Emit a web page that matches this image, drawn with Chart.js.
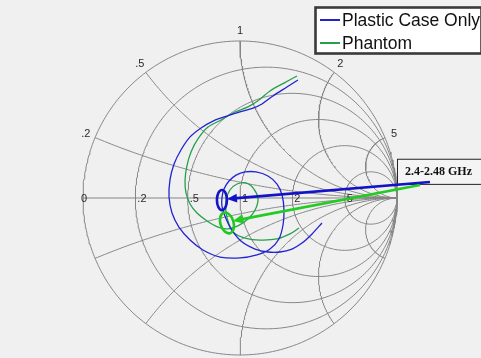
<!DOCTYPE html>
<html>
<head>
<meta charset="utf-8">
<script src="https://cdn.jsdelivr.net/npm/chart.js@4.4.0/dist/chart.umd.min.js"></script>
<style>
  body { margin: 0; background: #f0f0f0; }
  #smith { display: block; }
</style>
</head>
<body>
<canvas id="smith" width="481" height="358"></canvas>
<script>
// smith chart grid values
const resistanceValues = [0.2, 0.5, 1, 2, 5];
const reactanceValues = [0.2, 0.5, 1, 2, 5];
const realAxisLabels = ['0', '.2', '.5', '1', '2', '5'];
const rimLabels = ['.2', '.5', '1', '2', '5'];

// measured S11, reflection coefficient (real / imag)
const caseRe = [0.369, 0.299, 0.210, 0.140, 0.083, 0.000, -0.083, -0.172, -0.248, -0.318,
  -0.376, -0.420, -0.446, -0.452, -0.433, -0.389, -0.318, -0.236, -0.127, 0.000,
  0.108, 0.191, 0.248, 0.274, 0.280, 0.268, 0.236, 0.178, 0.102, 0.032,
  -0.025, -0.070, -0.102, -0.115, -0.115, -0.096, -0.057, 0.006, 0.096, 0.178,
  0.255, 0.331, 0.395, 0.459, 0.522];
const caseIm = [0.752, 0.707, 0.650, 0.599, 0.573, 0.548, 0.522, 0.490, 0.446, 0.389,
  0.306, 0.217, 0.115, 0.006, -0.096, -0.185, -0.268, -0.331, -0.376, -0.382,
  -0.363, -0.325, -0.261, -0.172, -0.076, 0.019, 0.089, 0.140, 0.166, 0.166,
  0.146, 0.108, 0.057, 0.000, -0.051, -0.115, -0.197, -0.274, -0.325, -0.344,
  -0.344, -0.325, -0.287, -0.229, -0.159];

const phantomRe = [0.363, 0.280, 0.191, 0.121, 0.051, -0.032, -0.121, -0.204, -0.268, -0.312,
  -0.338, -0.350, -0.344, -0.318, -0.274, -0.210, -0.140, -0.076, -0.013, 0.051,
  0.096, 0.115, 0.089, 0.038, -0.019, -0.064, -0.089, -0.089, -0.070, -0.038,
  0.032, 0.127, 0.236, 0.318, 0.376];
const phantomIm = [0.777, 0.732, 0.682, 0.624, 0.580, 0.548, 0.497, 0.452, 0.376, 0.293,
  0.204, 0.115, 0.032, -0.038, -0.096, -0.146, -0.185, -0.197, -0.178, -0.134,
  -0.076, -0.006, 0.057, 0.096, 0.089, 0.051, -0.013, -0.089, -0.166, -0.223,
  -0.255, -0.268, -0.261, -0.229, -0.191];

// 2.4-2.48 GHz band markers (centre re, centre im, radius re, radius im, tilt)
const caseBand = [-0.115, -0.013, 0.032, 0.064, 0];
const phantomBand = [-0.083, -0.159, 0.042, 0.068, -0.3];
// callout arrows: tail re/im, head re/im
const caseArrow = [1.21, 0.102, -0.083, -0.006];
const phantomArrow = [1.146, 0.083, -0.045, -0.146];

const gridColor = '#858585';

function gamma(r, x) {
  // z = r + jx  ->  (z - 1) / (z + 1)
  const d = (r + 1) * (r + 1) + x * x;
  return { x: (r * r + x * x - 1) / d, y: 2 * x / d };
}

function resistanceCircle(r) {
  const pts = [];
  for (let i = -180; i <= 180; i++) {
    const t = i / 180 * Math.PI / 2 * 0.9999;
    pts.push(gamma(r, Math.tan(t)));
  }
  return pts;
}

function reactanceArc(x) {
  const pts = [];
  for (let i = 0; i <= 180; i++) {
    const t = i / 180 * Math.PI / 2 * 0.9999;
    pts.push(gamma(Math.tan(t), x));
  }
  return pts;
}

function gridSet(points) {
  return {
    data: points, showLine: true, borderColor: gridColor, borderWidth: 1,
    pointRadius: 0, clip: false, tension: 0
  };
}

const toPoints = (re, im) => re.map((v, i) => ({ x: v, y: im[i] }));

const datasets = [
  { label: 'Plastic Case Only', data: toPoints(caseRe, caseIm), showLine: true,
    borderColor: '#2222d2', borderWidth: 1.3, pointRadius: 0, clip: false, tension: 0.3 },
  { label: 'Phantom', data: toPoints(phantomRe, phantomIm), showLine: true,
    borderColor: '#25a04a', borderWidth: 1.3, pointRadius: 0, clip: false, tension: 0.3 }
];
datasets.push(gridSet([{ x: -1, y: 0 }, { x: 1, y: 0 }]));
datasets.push(gridSet(resistanceCircle(0)));
resistanceValues.forEach(r => datasets.push(gridSet(resistanceCircle(r))));
reactanceValues.forEach(x => {
  datasets.push(gridSet(reactanceArc(x)));
  datasets.push(gridSet(reactanceArc(-x)));
});

function drawArrow(ctx, x0, y0, x1, y1, color) {
  const a = Math.atan2(y1 - y0, x1 - x0);
  ctx.strokeStyle = color;
  ctx.fillStyle = color;
  ctx.lineWidth = 2.6;
  ctx.beginPath();
  ctx.moveTo(x0, y0);
  ctx.lineTo(x1 - 7 * Math.cos(a), y1 - 7 * Math.sin(a));
  ctx.stroke();
  ctx.beginPath();
  ctx.moveTo(x1, y1);
  ctx.lineTo(x1 - 10 * Math.cos(a) + 4.5 * Math.sin(a), y1 - 10 * Math.sin(a) - 4.5 * Math.cos(a));
  ctx.lineTo(x1 - 10 * Math.cos(a) - 4.5 * Math.sin(a), y1 - 10 * Math.sin(a) + 4.5 * Math.cos(a));
  ctx.closePath();
  ctx.fill();
}

const smithDecor = {
  id: 'smithDecor',
  afterDatasetsDraw(chart) {
    const { ctx, scales } = chart;
    const px = v => scales.x.getPixelForValue(v);
    const py = v => scales.y.getPixelForValue(v);
    ctx.save();

    // resistance labels along the real axis
    ctx.fillStyle = '#2a2a2a';
    ctx.font = '11px "Liberation Sans", Arial, sans-serif';
    ctx.textBaseline = 'middle';
    [0].concat(resistanceValues).forEach((r, i) => {
      const g = (r - 1) / (r + 1);
      ctx.textAlign = i === 0 ? 'center' : 'left';
      ctx.fillText(realAxisLabels[i], px(g) + (i === 0 ? 1 : 2), py(0) + 1);
    });

    // reactance labels around the rim
    ctx.textAlign = 'center';
    reactanceValues.forEach((x, i) => {
      const g = gamma(0, x);
      ctx.fillText(rimLabels[i], px(g.x) + 10 * g.x, py(g.y) - 10 * g.y);
    });

    // band markers
    [[caseBand, '#1515c8'], [phantomBand, '#22c622']].forEach(([b, c]) => {
      ctx.strokeStyle = c;
      ctx.lineWidth = 2.6;
      ctx.beginPath();
      ctx.ellipse(px(b[0]), py(b[1]), px(b[2]) - px(0), py(0) - py(b[3]), b[4], 0, Math.PI * 2);
      ctx.stroke();
    });

    // callout box
    const bx = px(1), by = py(0.25), bw = chart.width - px(1), bh = py(0.09) - py(0.25);
    ctx.fillStyle = '#f4f4f4';
    ctx.fillRect(bx, by, bw, bh);
    ctx.strokeStyle = '#222';
    ctx.lineWidth = 1;
    ctx.strokeRect(bx + 0.5, by + 0.5, bw, bh);
    ctx.fillStyle = '#111';
    ctx.font = 'bold 12px "Liberation Serif", "Times New Roman", serif';
    ctx.textAlign = 'left';
    ctx.fillText('2.4-2.48 GHz', bx + 8, by + bh / 2 + 1);

    drawArrow(ctx, px(caseArrow[0]), py(caseArrow[1]), px(caseArrow[2]), py(caseArrow[3]), '#1212c8');
    drawArrow(ctx, px(phantomArrow[0]), py(phantomArrow[1]), px(phantomArrow[2]), py(phantomArrow[3]), '#22cc22');

    // legend
    ctx.fillStyle = '#ffffff';
    ctx.fillRect(315, 7, 166, 46);
    ctx.strokeStyle = '#3a3a3a';
    ctx.strokeRect(315.5, 7.5, 166, 46);
    ctx.font = '17.5px "Liberation Sans", Arial, sans-serif';
    ctx.textBaseline = 'middle';
    chart.data.datasets.slice(0, 2).forEach((ds, i) => {
      const ly = 20 + i * 23;
      ctx.strokeStyle = ds.borderColor;
      ctx.lineWidth = 2;
      ctx.beginPath();
      ctx.moveTo(320, ly);
      ctx.lineTo(340, ly);
      ctx.stroke();
      ctx.fillStyle = '#111';
      ctx.fillText(ds.label, 342, ly + 1);
    });
    ctx.restore();
  }
};

new Chart(document.getElementById('smith'), {
  type: 'scatter',
  data: { datasets },
  options: {
    responsive: false,
    animation: false,
    layout: { padding: { left: 83, right: 84, top: 41, bottom: 3 } },
    scales: {
      x: { type: 'linear', min: -1, max: 1, display: false },
      y: { type: 'linear', min: -1, max: 1, display: false }
    },
    plugins: { legend: { display: false }, tooltip: { enabled: false } }
  },
  plugins: [smithDecor]
});
</script>
</body>
</html>
